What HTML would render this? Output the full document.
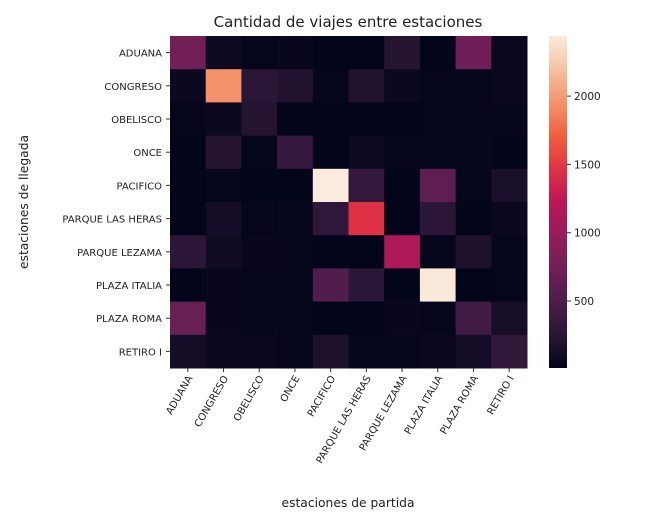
<!DOCTYPE html>
<html><head><meta charset="utf-8"><style>
body{margin:0;background:#fff}
svg{display:block;font-family:"DejaVu Sans","Liberation Sans",sans-serif}
</style></head><body>
<svg id="chart" width="650" height="527" viewBox="0 0 650 527">
<defs><linearGradient id="cbg" x1="0" y1="1" x2="0" y2="0"></linearGradient></defs>
<text x="348" y="27" font-size="15" text-anchor="middle" fill="#222">Cantidad de viajes entre estaciones</text>
<g id="cells"></g>
<g id="ylab"></g>
<g id="xlab"></g>
<text x="348" y="507" font-size="12.3" text-anchor="middle" fill="#222">estaciones de partida</text>
<text transform="translate(28,202) rotate(-90)" font-size="12.3" text-anchor="middle" fill="#222">estaciones de llegada</text>
<rect x="549" y="36" width="18" height="332" fill="url(#cbg)"/>
<g id="cbt"></g>
</svg>
<script>
const stations=["ADUANA","CONGRESO","OBELISCO","ONCE","PACIFICO","PARQUE LAS HERAS","PARQUE LEZAMA","PLAZA ITALIA","PLAZA ROMA","RETIRO I"];
const values=[
[750,80,20,40,10,10,230,10,730,50],
[60,1950,250,200,20,200,60,30,30,50],
[20,60,220,10,10,10,10,20,20,30],
[10,230,20,330,10,80,20,20,30,10],
[10,20,10,10,2440,320,10,620,20,150],
[10,120,20,30,280,1450,10,270,10,60],
[260,100,40,30,10,10,1130,20,180,30],
[10,40,30,20,520,250,10,2420,10,20],
[680,40,30,20,10,10,40,20,400,130],
[120,60,50,20,170,30,20,60,110,300]];
const cbTicks=[500,1000,1500,2000];
const vmin=10,vmax=2440;
const stops=["#03051a","#2a1636","#4c1d4b","#701f57","#961c5b","#bc1654","#e13342","#f0603f","#f4936c","#f6c2a1","#faebdd"];
const NS="http://www.w3.org/2000/svg";
const X0=170,X1=527,Y0=36,Y1=368,n=stations.length;
const cw=(X1-X0)/n,ch=(Y1-Y0)/n;
const xs=i=>X0+i*cw, ys=j=>Y0+j*ch;
const cy=v=>Y1-(v-vmin)/(vmax-vmin)*(Y1-Y0);
function hex(h){return [1,3,5].map(k=>parseInt(h.substr(k,2),16));}
function color(v){let t=Math.max(0,Math.min(1,(v-vmin)/(vmax-vmin)))*(stops.length-1);let i=Math.min(Math.floor(t),stops.length-2),f=t-i;const a=hex(stops[i]),b=hex(stops[i+1]);return "rgb("+a.map((c,k)=>Math.round(c+(b[k]-c)*f)).join(",")+")";}
function mk(tag,at){const e=document.createElementNS(NS,tag);for(const k in at)e.setAttribute(k,at[k]);return e;}
const cells=document.getElementById("cells"),yl=document.getElementById("ylab"),xl=document.getElementById("xlab");
values.forEach((row,j)=>row.forEach((v,i)=>{
 const r=mk("rect",{x:xs(i),y:ys(j),width:cw+0.5,height:ch+0.5,fill:color(v)});
 
 
 cells.appendChild(r);
}));
stations.forEach((s,j)=>{
 const y=ys(j)+ch/2;
 yl.appendChild(mk("line",{x1:X0-4,x2:X0,y1:y,y2:y,stroke:"#333"}));
 const t=mk("text",{x:X0-8,y:y+4,"font-size":10,"text-anchor":"end",fill:"#222"});
 
 
 t.textContent=s;yl.appendChild(t);
});
stations.forEach((s,i)=>{
 const x=xs(i)+cw/2;
 xl.appendChild(mk("line",{x1:x,x2:x,y1:Y1,y2:Y1+4,stroke:"#333"}));
 const t=mk("text",{transform:"translate("+(x+5)+","+(Y1+10)+") rotate(-60)","font-size":10,"text-anchor":"end",fill:"#222"});
 
 
 t.textContent=s;xl.appendChild(t);
});
const g=document.getElementById("cbg");
stops.forEach((c,k)=>g.appendChild(mk("stop",{offset:k/(stops.length-1),"stop-color":c})));
const cb=document.getElementById("cbt");
cbTicks.forEach(v=>{
 const y=cy(v);
 cb.appendChild(mk("line",{x1:567,x2:571,y1:y,y2:y,stroke:"#333"}));
 const t=mk("text",{x:574,y:y+4,"font-size":10.5,fill:"#222"});
 
 
 t.textContent=v;cb.appendChild(t);
});
</script>
</body></html>
